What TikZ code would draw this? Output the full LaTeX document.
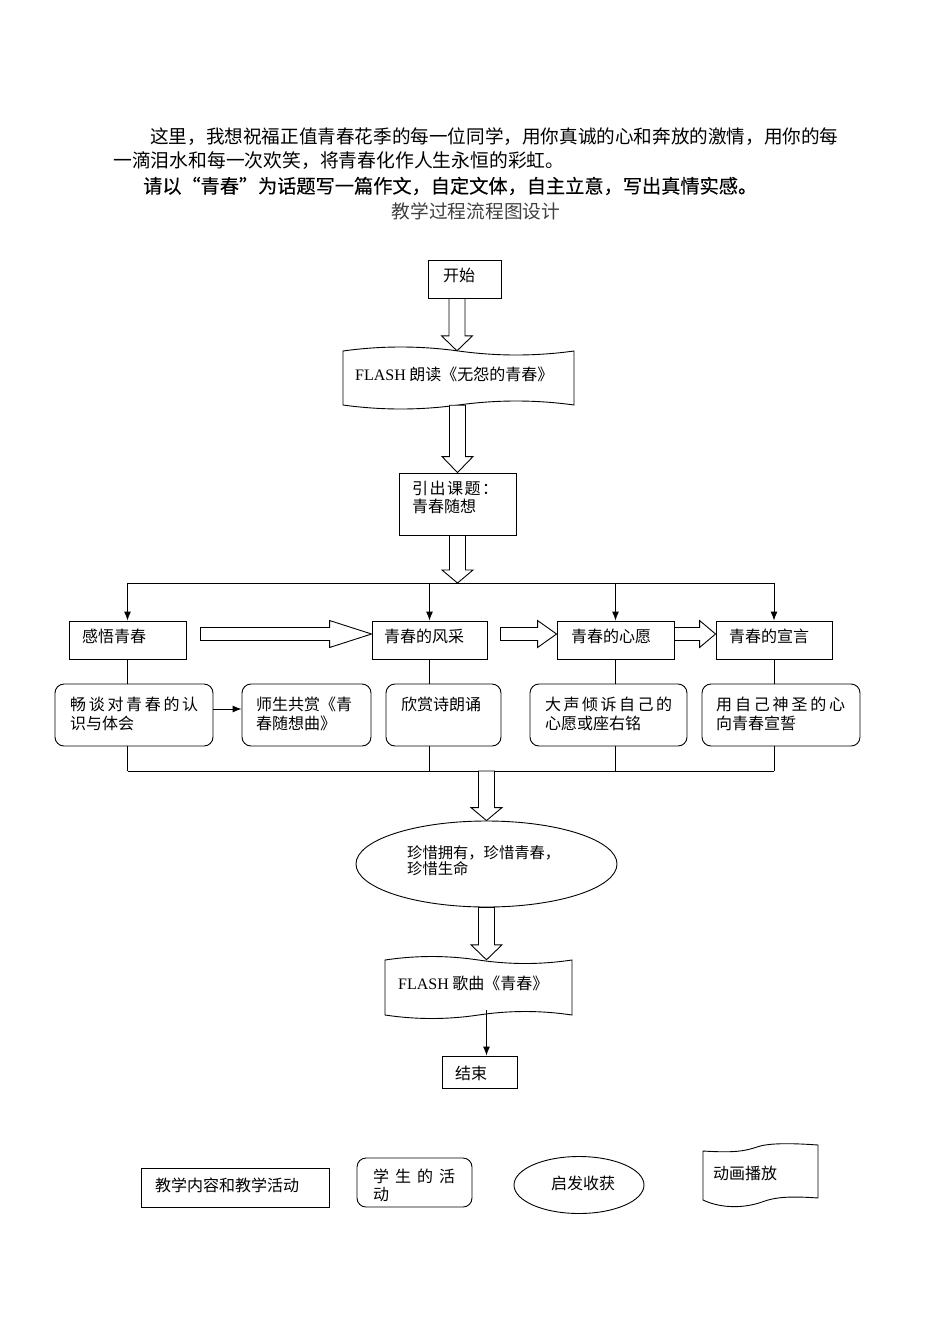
\documentclass[tikz,border=0pt]{standalone}
\usepackage{fontspec}
\setmainfont{Noto Sans CJK SC}
\newfontfamily\latf{Liberation Serif}
\newfontfamily\cjkbold[FakeBold=0.2]{Noto Sans CJK SC}
\usetikzlibrary{arrows.meta,calc,shapes.geometric}
\tikzset{
 ln/.style={line width=0.9pt},
 hollow/.style={draw, line width=0.9pt, fill=white},
 boxs/.style={draw, line width=0.9pt, inner sep=0pt, fill=white},
 rbox/.style={boxs, rounded corners=9pt},
 ghost/.style={inner sep=0pt},
 txt/.style={inner sep=0pt, anchor=west, align=left, font=\fontsize{16}{19}\selectfont},
 para/.style={inner sep=0pt, anchor=west},
 tip/.style={-{Latex[length=9pt,width=7pt]}},
}
\newcommand\hdown[3]{%
 \draw[hollow] let \p1=(#1), \p2=(#2) in
 (\x1-8pt,\y1) -- (\x1-8pt,\y2+#3) -- (\x1-15.5pt,\y2+#3) -- (\x1,\y2)
 -- (\x1+15.5pt,\y2+#3) -- (\x1+8pt,\y2+#3) -- (\x1+8pt,\y1) -- cycle;}
\newcommand\hright[3]{%
 \draw[hollow] let \p1=(#1), \p2=(#2) in
 (\x1,\y1+6.5pt) -- (\x2-#3,\y1+6.5pt) -- (\x2-#3,\y1+13.5pt) -- (\x2,\y1)
 -- (\x2-#3,\y1-13.5pt) -- (\x2-#3,\y1-6.5pt) -- (\x1,\y1-6.5pt) -- cycle;}
\newcommand\tapeshape[5]{%
 \draw[ln,fill=white] (#1,#2) .. controls ({#1+#3/6},{#2-4*#5/3}) and ({#1+#3/3},{#2-4*#5/3}) .. ({#1+#3/2},#2)
 .. controls ({#1+2*#3/3},{#2+4*#5/3}) and ({#1+5*#3/6},{#2+4*#5/3}) .. ({#1+#3},#2)
 -- ({#1+#3},#4) .. controls ({#1+5*#3/6},{#4-4*#5/3}) and ({#1+2*#3/3},{#4-4*#5/3}) .. ({#1+#3/2},#4)
 .. controls ({#1+#3/3},{#4+4*#5/3}) and ({#1+#3/6},{#4+4*#5/3}) .. (#1,#4) -- cycle;}
\begin{document}
\begin{tikzpicture}[x=1pt,y=-1pt]
\useasboundingbox (0,0) rectangle (950,1344);
% paragraph
\node[para, font=\fontsize{18.6}{22}\selectfont] (p1) at (150,137) {这里，我想祝福正值青春花季的每一位同学，用你真诚的心和奔放的激情，用你的每};
\node[para, font=\fontsize{18.8}{22}\selectfont] (p2) at (113,161) {一滴泪水和每一次欢笑，将青春化作人生永恒的彩虹。};
\node[para, font=\cjkbold\fontsize{19.2}{23}\selectfont] (p3) at (143,186) {请以\makebox[19pt][r]{“}青春\makebox[19pt][l]{”}为话题写一篇作文，自定文体，自主立意，写出真情实感。};
\node[para, anchor=center, font=\fontsize{18.7}{22}\selectfont, text=black!75] (p4) at (476,211) {教学过程流程图设计};

% start
\node[boxs, minimum width=73, minimum height=38] (start) at (464.5,279) {};
\node[txt] (tstart) at (443,275) {开始};
% flash 1
\tapeshape{343}{351}{231}{405}{4}
\node[ghost, minimum width=231, minimum height=54] (flash1) at (458.5,378) {};
\node[txt] (tflash1) at (355,374) {{\latf FLASH} 朗读《无怨的青春》};
% yinchu
\node[boxs, minimum width=117, minimum height=62] (yinchu) at (457.5,504) {};
\node[txt, font=\fontsize{16}{18}\selectfont] (tyinchu) at (412,497) {\hbox to 86pt{引\hfil 出\hfil 课\hfil 题\hfil ：}\\青春随想};

\hdown{[xshift=-7.5pt]start.south}{[xshift=-7.5pt]start.south |- flash1.north}{15pt}
\hdown{yinchu.north |- flash1.south}{yinchu.north}{16pt}
\coordinate (bus1) at (457.5,583);
\hdown{yinchu.south}{bus1}{13pt}

% row 1
\node[boxs, minimum width=117, minimum height=38] (ganwu) at (127.5,640) {};
\node[boxs, minimum width=115, minimum height=38] (fengcai) at (429.5,640) {};
\node[boxs, minimum width=117, minimum height=38] (xinyuan) at (615.5,640) {};
\node[boxs, minimum width=116, minimum height=38] (xuanyan) at (774,640) {};
\node[txt] (tganwu) at (82,636) {感悟青春};
\node[txt] (tfengcai) at (384,636) {青春的风采};
\node[txt] (txinyuan) at (571,636) {青春的心愿};
\node[txt] (txuanyan) at (729,636) {青春的宣言};

\draw[ln] (ganwu.north |- bus1) -- (xuanyan.north |- bus1);
\foreach \n in {ganwu,fengcai,xinyuan,xuanyan}
  \draw[ln,tip] (\n.north |- bus1) -- (\n.north);

\hright{[shift={(14,-6)}]ganwu.east}{fengcai.west}{42pt}
\hright{[shift={(13,-6)}]fengcai.east}{xinyuan.west}{19pt}
\hright{[shift={(0,-6)}]xinyuan.east}{xuanyan.west}{16pt}

% row 2
\node[rbox, minimum width=158, minimum height=62] (changtan) at (134,715) {};
\node[rbox, minimum width=129, minimum height=62] (shisheng) at (306.5,715) {};
\node[rbox, minimum width=115, minimum height=62] (xinshang) at (443.5,715) {};
\node[rbox, minimum width=157, minimum height=62] (dasheng) at (608.5,715) {};
\node[rbox, minimum width=158, minimum height=62] (yong) at (781,715) {};
\node[txt] (tchangtan) at (70,713.5) {\hbox to 128pt{畅\hfil 谈\hfil 对\hfil 青\hfil 春\hfil 的\hfil 认}\\识与体会};
\node[txt] (tshisheng) at (256,713.5) {师生共赏《青\\春随想曲》};
\node[txt] (txinshang) at (401,704) {欣赏诗朗诵};
\node[txt] (tdasheng) at (545,713.5) {\hbox to 127pt{大\hfil 声\hfil 倾\hfil 诉\hfil 自\hfil 己\hfil 的}\\心愿或座右铭};
\node[txt] (tyong) at (716,713.5) {\hbox to 129pt{用\hfil 自\hfil 己\hfil 神\hfil 圣\hfil 的\hfil 心}\\向青春宣誓};
\draw[ln,tip] (changtan.east |- 0,709) -- (shisheng.west |- 0,709);

\coordinate (bus2) at (486.5,771);
\foreach \n/\m in {ganwu/changtan,fengcai/xinshang,xinyuan/dasheng,xuanyan/yong}{
  \draw[ln] (\n.south) -- (\n.south |- \m.north);
  \draw[ln] (\n.south |- \m.south) -- (\n.south |- bus2);
}
\draw[ln] (ganwu.south |- bus2) -- (xuanyan.south |- bus2);

% ellipse
\node[draw, ln, ellipse, minimum width=261, minimum height=86, inner sep=0pt] (zhenxi) at (486.5,864) {};
\node[txt, font=\fontsize{15.3}{15.5}\selectfont] (tzhenxi) at (407,860.5) {珍惜拥有，珍惜青春，\\珍惜生命};
\hdown{bus2}{zhenxi.north}{13pt}

% flash 2
\tapeshape{385}{960}{187}{1015}{3.5}
\node[ghost, minimum width=187, minimum height=55] (flash2) at (478.5,987.5) {};
\node[txt] (tflash2) at (398,983) {{\latf FLASH} 歌曲《青春》};
\hdown{zhenxi.south}{zhenxi.south |- flash2.north}{15pt}

% end
\node[boxs, minimum width=75, minimum height=32] (end) at (479.5,1072) {};
\node[txt] (tend) at (455,1073) {结束};
\draw[ln,tip] ([yshift=5pt]zhenxi.south |- flash2.south) -- (zhenxi.south |- end.north);

% legend
\node[boxs, minimum width=188, minimum height=39] (L1) at (235,1187.5) {};
\node[txt] (tL1) at (155,1185) {教学内容和教学活动};
\node[rbox, minimum width=115, minimum height=49] (L2) at (414.5,1182.5) {};
\node[txt, font=\fontsize{16}{18}\selectfont] (tL2) at (373,1185) {\hbox to 82pt{学\hfil 生\hfil 的\hfil 活}\\动};
\node[draw, ln, ellipse, minimum width=130, minimum height=57, inner sep=0pt] (L3) at (579,1185) {};
\node[txt] (tL3) at (551,1183) {启发收获};
\draw[ln,fill=white] (703,1151) .. controls (735,1153) and (745,1151) .. (757,1147)
  .. controls (768,1143) and (790,1143) .. (818,1145) -- (818,1198)
  .. controls (790,1196) and (775,1197) .. (762,1202)
  .. controls (745,1208) and (722,1209) .. (703,1200) -- cycle;
\node[ghost, minimum width=115, minimum height=50] (L4) at (760.5,1175) {};
\node[txt] (tL4) at (713,1173) {动画播放};
\end{tikzpicture}
\end{document}
